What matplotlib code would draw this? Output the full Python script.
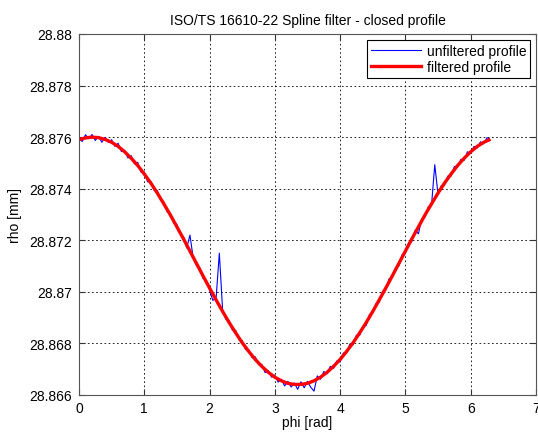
import numpy as np
import matplotlib
matplotlib.use("Agg")
import matplotlib.pyplot as plt
from matplotlib.ticker import FuncFormatter

plt.rcParams['font.family'] = ['Liberation Sans', 'DejaVu Sans']
plt.rcParams['font.size'] = 10

# filtered profile, read at 0.1 rad steps (last point = 2*pi)
phi_filt = [0.0, 0.1, 0.2, 0.3, 0.4, 0.5, 0.6, 0.7, 0.8, 0.9,
            1.0, 1.1, 1.2, 1.3, 1.4, 1.5, 1.6, 1.7, 1.8, 1.9,
            2.0, 2.1, 2.2, 2.3, 2.4, 2.5, 2.6, 2.7, 2.8, 2.9,
            3.0, 3.1, 3.2, 3.3, 3.4, 3.5, 3.6, 3.7, 3.8, 3.9,
            4.0, 4.1, 4.2, 4.3, 4.4, 4.5, 4.6, 4.7, 4.8, 4.9,
            5.0, 5.1, 5.2, 5.3, 5.4, 5.5, 5.6, 5.7, 5.8, 5.9,
            6.0, 6.1, 6.2, 6.28]
rho_filt = [28.87590, 28.87597, 28.87600, 28.87598, 28.87591, 28.87580, 28.87564, 28.87543, 28.87518, 28.87490,
            28.87457, 28.87422, 28.87383, 28.87341, 28.87298, 28.87252, 28.87206, 28.87158, 28.87110, 28.87062,
            28.87015, 28.86969, 28.86924, 28.86881, 28.86841, 28.86803, 28.86769, 28.86738, 28.86711, 28.86688,
            28.86669, 28.86655, 28.86645, 28.86641, 28.86641, 28.86645, 28.86655, 28.86669, 28.86688, 28.86711,
            28.86738, 28.86769, 28.86803, 28.86841, 28.86881, 28.86924, 28.86969, 28.87015, 28.87062, 28.87110,
            28.87158, 28.87206, 28.87252, 28.87298, 28.87341, 28.87383, 28.87422, 28.87457, 28.87490, 28.87518,
            28.87543, 28.87564, 28.87580, 28.87589]

# unfiltered profile, read at 0.05 rad steps (0 .. 6.25) plus end point
rho_raw = [28.87595, 28.87583, 28.87609, 28.87594, 28.87610, 28.87587, 28.87603, 28.87580, 28.87599, 28.87580,
           28.87590, 28.87564, 28.87576, 28.87544, 28.87549, 28.87519, 28.87528, 28.87496, 28.87502, 28.87464,
           28.87465, 28.87427, 28.87428, 28.87394, 28.87393, 28.87356, 28.87349, 28.87310, 28.87304, 28.87267,
           28.87262, 28.87223, 28.87214, 28.87170, 28.87220, 28.87130, 28.87102, 28.87094, 28.87052, 28.87045,
           28.87007, 28.86967, 28.86974, 28.87150, 28.86930, 28.86893, 28.86889, 28.86851, 28.86851, 28.86814,
           28.86811, 28.86776, 28.86775, 28.86745, 28.86748, 28.86718, 28.86719, 28.86687, 28.86694, 28.86669,
           28.86677, 28.86650, 28.86661, 28.86635, 28.86653, 28.86631, 28.86646, 28.86622, 28.86651, 28.86628,
           28.86653, 28.86630, 28.86615, 28.86674, 28.86661, 28.86691, 28.86682, 28.86711, 28.86703, 28.86732,
           28.86728, 28.86763, 28.86763, 28.86798, 28.86795, 28.86832, 28.86831, 28.86867, 28.86869, 28.86913,
           28.86918, 28.86954, 28.86959, 28.87002, 28.87007, 28.87051, 28.87056, 28.87094, 28.87100, 28.87144,
           28.87152, 28.87190, 28.87196, 28.87239, 28.87225, 28.87283, 28.87290, 28.87330, 28.87335, 28.87493,
           28.87377, 28.87412, 28.87414, 28.87449, 28.87449, 28.87486, 28.87484, 28.87514, 28.87510, 28.87543,
           28.87537, 28.87564, 28.87558, 28.87582, 28.87574, 28.87598, 28.87594]
phi_raw = list(np.round(np.arange(0, 6.26, 0.05), 2)) + [6.28]

fig = plt.figure(figsize=(5.38, 4.35), dpi=100)
ax = fig.add_axes([0.1468, 0.0897, 0.8494, 0.8299])

ax.plot(phi_raw, rho_raw, color=(0, 0, 1), lw=0.8, label='unfiltered profile')
ax.plot(phi_filt, rho_filt, color=(1, 0, 0), lw=2.4, label='filtered profile')

ax.set_xlim(0, 7)
ax.set_ylim(28.866, 28.88)
ax.set_xticks(range(0, 8))
ax.set_yticks(np.arange(28.866, 28.8801, 0.002))
ax.yaxis.set_major_formatter(FuncFormatter(lambda v, p: '%g' % round(v, 4)))

ax.grid(True, color='black', linestyle=(0, (2, 3)), linewidth=0.6)
ax.tick_params(direction='in', length=4, top=True, right=True, colors='#333333',
               labelcolor='black')
ax.tick_params(axis='x', pad=4)
ax.tick_params(axis='y', pad=5)
for s in ax.spines.values():
    s.set_color('#555555')
    s.set_linewidth(0.8)

ax.set_title('ISO/TS 16610-22 Spline filter - closed profile', fontsize=10, pad=7)
ax.set_xlabel('phi [rad]', labelpad=0)
ax.set_ylabel('rho [mm]', labelpad=5)

leg = ax.legend(loc='upper right', fancybox=False, framealpha=1, edgecolor='black',
                borderaxespad=0.4, handlelength=3.6, handletextpad=0.4,
                labelspacing=0.15, borderpad=0.3, fontsize=10)
leg.get_frame().set_linewidth(0.8)

fig.savefig('out.png', dpi=100)
